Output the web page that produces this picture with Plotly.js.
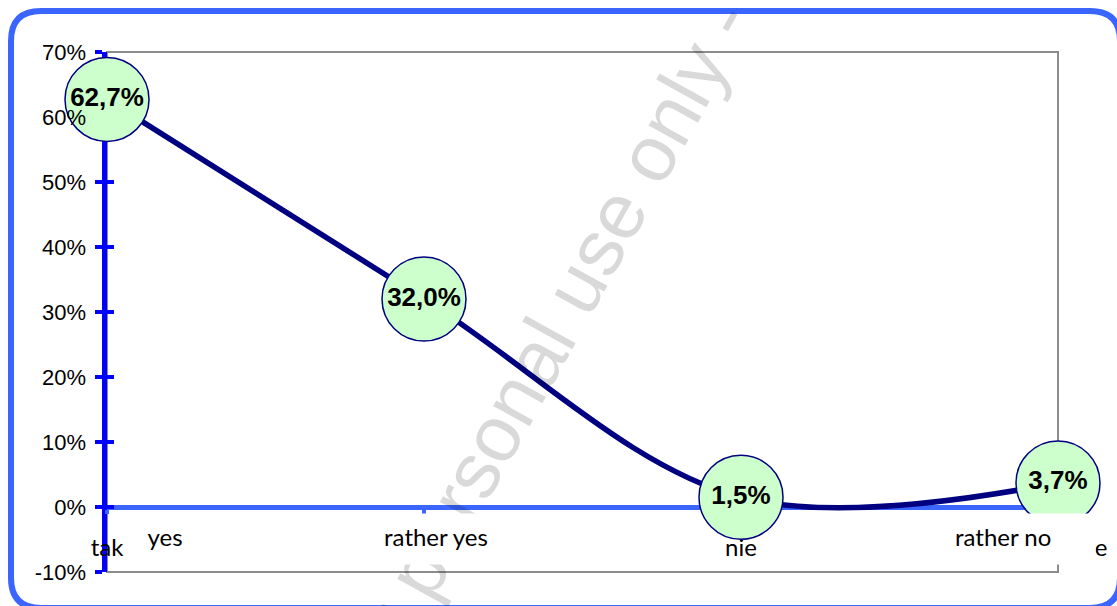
<!DOCTYPE html>
<html><head><meta charset="utf-8">
<script src="https://cdn.plot.ly/plotly-3.0.1.min.js"></script>
<style>html,body{margin:0;padding:0;background:#fff;overflow:hidden}#chart{width:1117px;height:606px}</style>
</head><body><div id="chart"></div>
<script>
// ---- data ----
const categories = ['tak', 'raczej tak', 'nie', 'raczej nie'];
const englishLabels = ['yes', 'rather yes', 'rather no'];
const englishFor = ['tak', 'raczej tak', 'raczej nie'];
const shares = [62.7, 32.0, 1.5, 3.7];
const yTickValues = [-10, 0, 10, 20, 30, 40, 50, 60, 70];
const yTickLabels = yTickValues.map(v => v + '%');
const watermarkText = 'for personal use only -';

// ---- geometry helpers (pixels -> paper) ----
const W = 1117, H = 606, L = 107, R = 59, T = 52, B = 34;
const pw = W - L - R, ph = H - T - B;
const px = x => (x - L) / pw;
const py = y => (H - B - y) / ph;

const bx0 = 11, by0 = 11, bx1 = 1120, by1 = 608, br = 30;
const borderPath =
  `M ${px(bx0)},${py(by0 + br)} Q ${px(bx0)},${py(by0)} ${px(bx0 + br)},${py(by0)} ` +
  `L ${px(bx1 - br)},${py(by0)} Q ${px(bx1)},${py(by0)} ${px(bx1)},${py(by0 + br)} ` +
  `L ${px(bx1)},${py(by1 - br)} Q ${px(bx1)},${py(by1)} ${px(bx1 - br)},${py(by1)} ` +
  `L ${px(bx0 + br)},${py(by1)} Q ${px(bx0)},${py(by1)} ${px(bx0)},${py(by1 - br)} Z`;

const blue = '#0000ff', lightBlue = '#3a66ff', navy = '#000080';

const traces = [
  {
    x: categories, y: shares,
    type: 'scatter', mode: 'lines+markers+text',
    line: {color: navy, width: 5.5, shape: 'spline', smoothing: 1},
    marker: {size: 84, color: '#ccffcc', line: {color: navy, width: 1.5}},
    texttemplate: '<b>%{y:.1f}%</b>',
    textposition: 'middle center',
    textfont: {family: 'Liberation Sans, Arial, sans-serif', size: 26, color: '#000'},
    cliponaxis: false, hoverinfo: 'skip', showlegend: false
  },
  {
    x: categories, y: shares, yaxis: 'y2', type: 'scatter', mode: 'markers',
    marker: {opacity: 0, size: 1}, hoverinfo: 'skip', showlegend: false
  },
  {
    x: categories, y: shares, yaxis: 'y3', type: 'scatter', mode: 'markers',
    marker: {opacity: 0, size: 1}, hoverinfo: 'skip', showlegend: false
  }
];

const annFont = {family: 'Lato, Liberation Sans, sans-serif', size: 24, color: '#000'};
const annShift = {'tak': 58, 'raczej tak': 12, 'raczej nie': -37};
const annBoxW = {'tak': 50, 'raczej tak': 130, 'raczej nie': 132};

const annotations = [
  {
    text: watermarkText, xref: 'paper', yref: 'paper', x: px(541), y: py(348),
    xanchor: 'center', yanchor: 'middle', textangle: -61, showarrow: false,
    font: {family: 'Liberation Sans, Arial, sans-serif', size: 79, color: 'rgba(0,0,0,0.15)'}
  }
].concat(englishLabels.map((lab, i) => ({
  text: lab, x: englishFor[i], xref: 'x', y: py(539), yref: 'paper',
  xshift: annShift[englishFor[i]], showarrow: false,
  xanchor: 'center', yanchor: 'middle',
  width: annBoxW[englishFor[i]], height: 34, borderpad: 8, valign: 'top',
  align: englishFor[i] === 'raczej nie' ? 'left' : 'center',
  bgcolor: '#ffffff', font: annFont
})));

const layout = {
  width: W, height: H,
  margin: {l: L, r: R, t: T, b: B, pad: 0},
  paper_bgcolor: '#ffffff', plot_bgcolor: '#ffffff',
  separators: ',.',
  showlegend: false,
  xaxis: {
    type: 'category', range: [0, 3], anchor: 'free', position: py(507),
    showline: true, linecolor: lightBlue, linewidth: 5,
    ticks: 'outside', ticklen: 4, tickwidth: 4, tickcolor: lightBlue,
    ticklabelstandoff: 13,
    tickfont: annFont, showgrid: false, zeroline: false, layer: 'below traces',
    fixedrange: true
  },
  // tick labels only, drawn above the markers
  yaxis: {
    range: [-10, 70], tickvals: yTickValues, ticktext: yTickLabels,
    showline: false, ticks: '',
    ticklabelstandoff: 20,
    tickfont: {family: 'Liberation Sans, Arial, sans-serif', size: 22, color: '#000'},
    showgrid: false, zeroline: false, layer: 'above traces', fixedrange: true
  },
  // axis line + outer tick halves, below the markers
  yaxis2: {
    overlaying: 'y', side: 'left', range: [-10, 70], tickvals: yTickValues,
    showticklabels: false, showline: true, linecolor: blue, linewidth: 5,
    ticks: 'outside', ticklen: 7, tickwidth: 4, tickcolor: blue,
    showgrid: false, zeroline: false, layer: 'below traces', fixedrange: true
  },
  // inner tick halves
  yaxis3: {
    overlaying: 'y', side: 'left', range: [-10, 70], tickvals: yTickValues,
    showticklabels: false, showline: false,
    ticks: 'inside', ticklen: 7, tickwidth: 4, tickcolor: blue,
    showgrid: false, zeroline: false, layer: 'below traces', fixedrange: true
  },
  shapes: [
    {type: 'rect', xref: 'paper', yref: 'paper', x0: 0, x1: 1, y0: 0, y1: 1,
     line: {color: '#8c8c8c', width: 2}, layer: 'below'},
    {type: 'path', xref: 'paper', yref: 'paper', path: borderPath,
     line: {color: lightBlue, width: 6}, layer: 'above'}
  ],
  annotations: annotations
};

Plotly.newPlot('chart', traces, layout, {displayModeBar: false, staticPlot: true});
</script>
</body></html>
